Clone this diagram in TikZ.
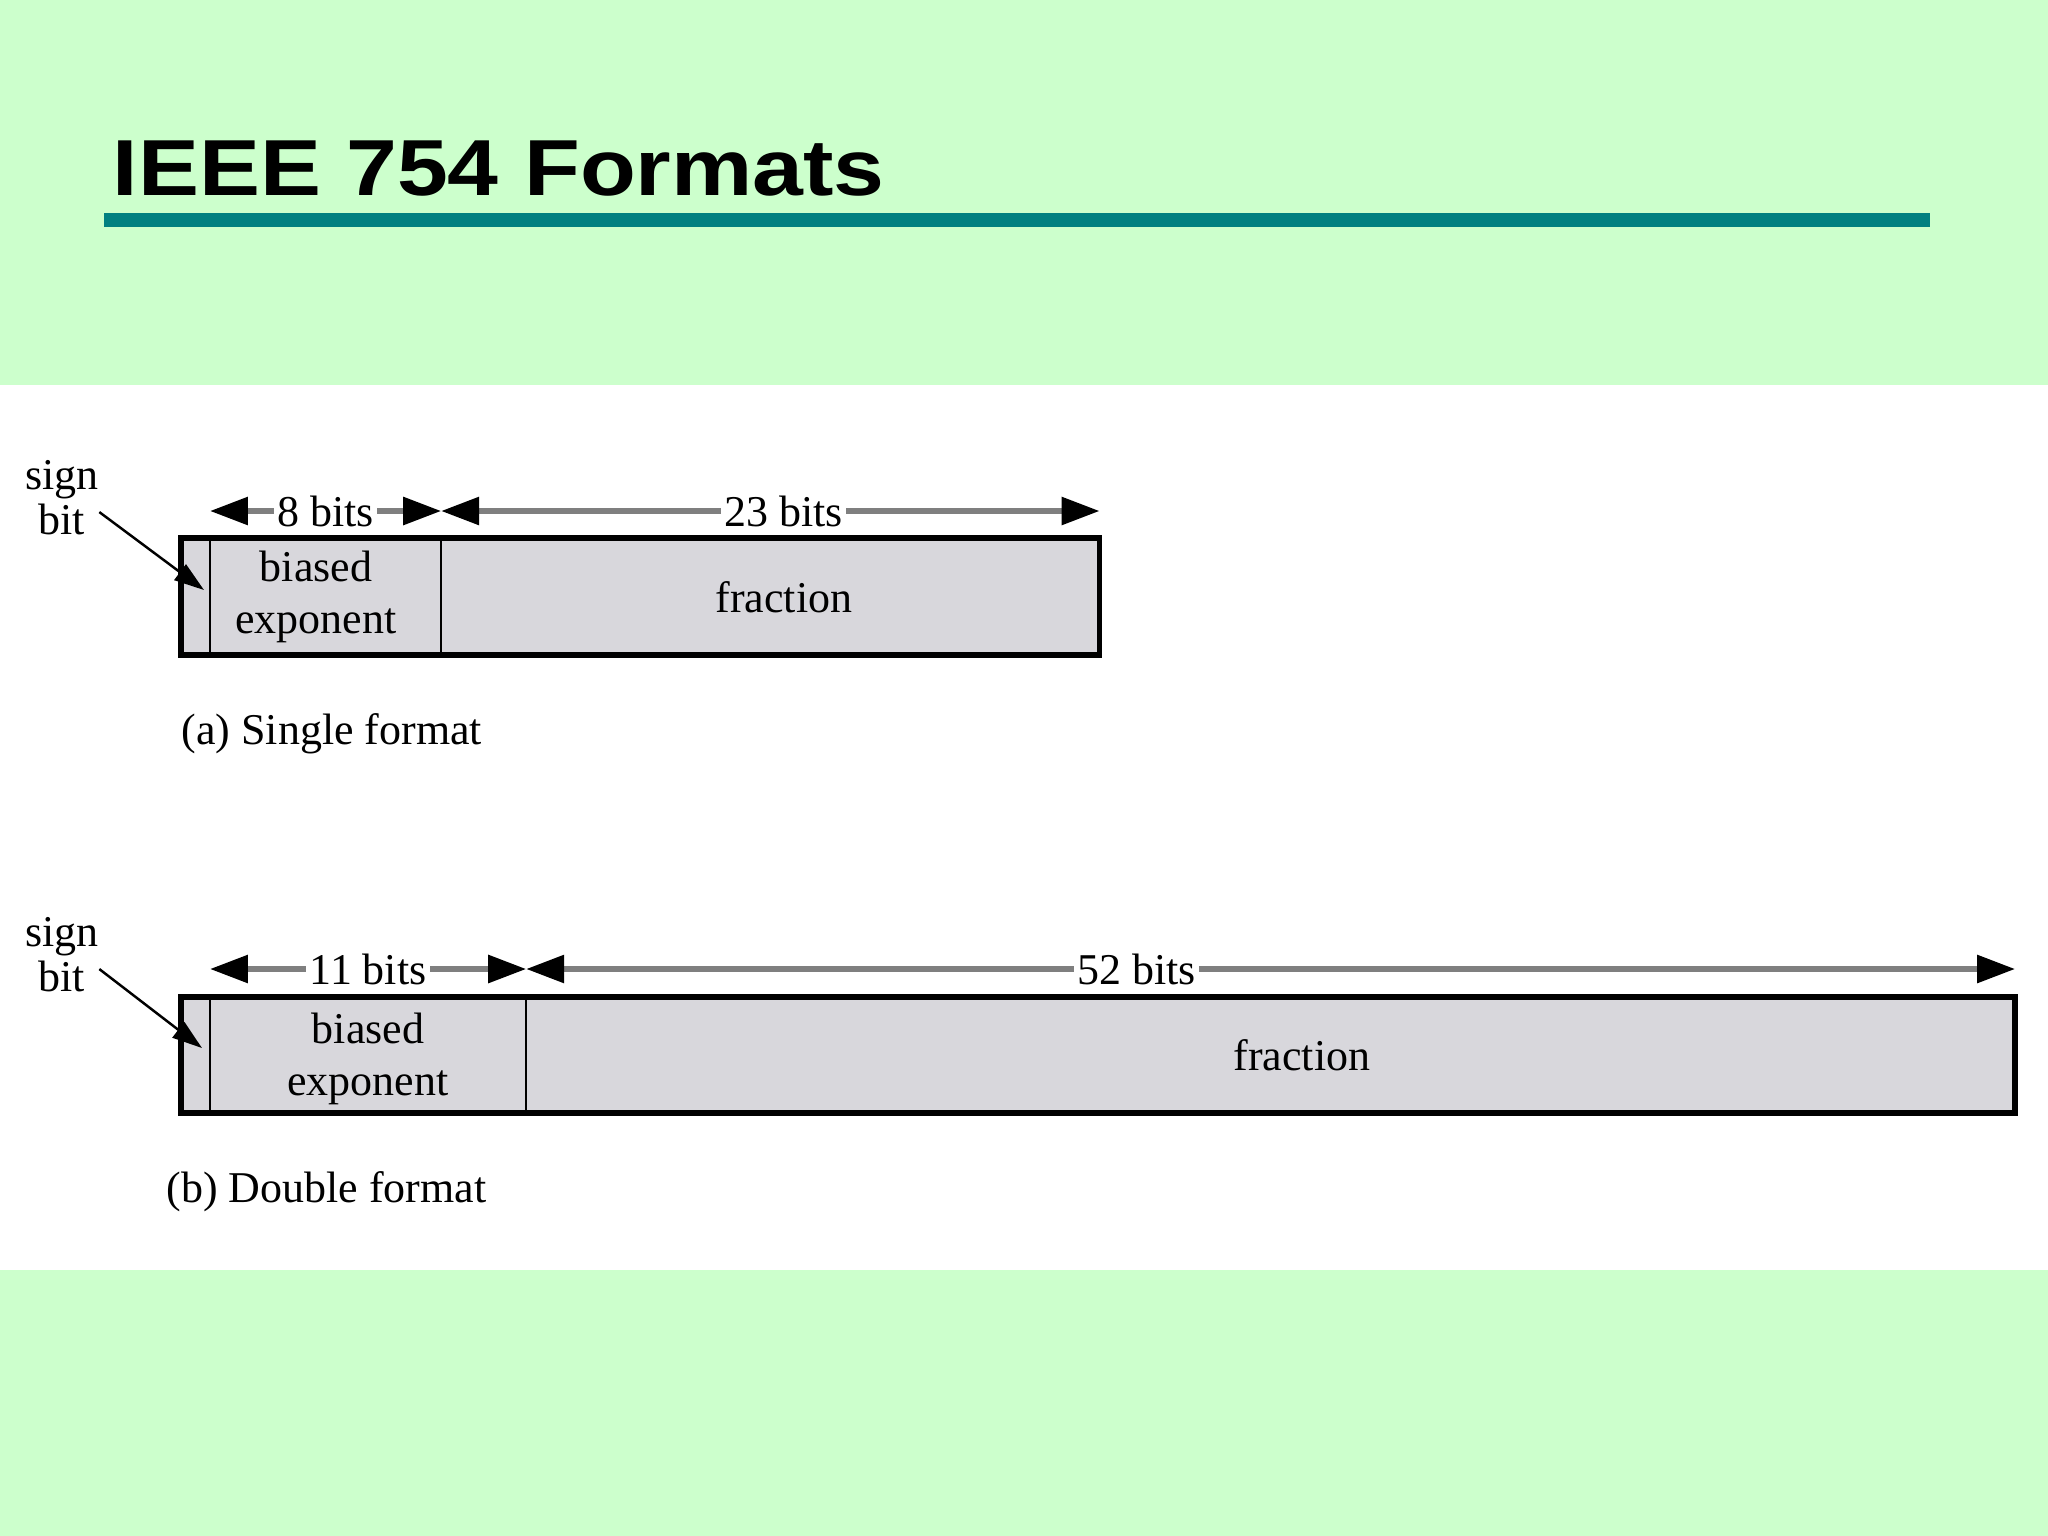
\documentclass[tikz,border=0pt]{standalone}
\usepackage{fontspec}
\setmainfont{Liberation Serif}
\newfontfamily\titlefont[FakeStretch=1.15]{Liberation Sans}
\usetikzlibrary{arrows.meta}
\definecolor{slidegreen}{HTML}{CCFFCC}
\definecolor{ruleteal}{HTML}{008080}
\definecolor{cellgray}{HTML}{D8D7DC}
\definecolor{dimgray}{HTML}{7F7F7F}

\begin{document}
\begin{tikzpicture}[x=0.01cm, y=-0.01cm,
    txt/.style={inner sep=0pt, align=center, font=\fontsize{12.5}{14.8}\selectfont},
    cell/.style={draw, line width=0.6pt, fill=cellgray, inner sep=0pt, outer sep=0pt,
      anchor=north west},
    frame/.style={line width=1.5pt},
    dim/.style={draw=dimgray, line width=1.6pt,
      {Triangle[length=10.8pt,width=7.7pt,color=black]}-{Triangle[length=10.8pt,width=7.7pt,color=black]}},
    bits/.style={fill=white, inner xsep=1pt, inner ysep=0pt, font=\fontsize{12.5}{14.8}\selectfont},
    ptr/.style={line width=0.7pt, -{Triangle[length=8.5pt,width=5.5pt]}},
    caption/.style={anchor=base west, inner sep=0pt, font=\fontsize{12.5}{14.8}\selectfont}]
  \useasboundingbox (0,0) rectangle (2048,1536);
  \fill[slidegreen] (0,0) rectangle (2048,1536);
  \fill[white] (0,385) rectangle (2048,1270);
  \node (title) [anchor=base west, inner sep=0pt,
    font=\titlefont\bfseries\fontsize{22.6}{24}\selectfont] at (112,195) {IEEE 754 Formats};
  \fill[ruleteal] (104,213) rectangle (1930,227);

  % single format
  \coordinate (srow) at (0,511);
  \node (s1) [cell, minimum width=0.29cm, minimum height=1.17cm] at (181,538) {};
  \node (s2) [cell, minimum width=2.31cm, minimum height=1.17cm] at (s1.north east) {};
  \node (s3) [cell, minimum width=6.58cm, minimum height=1.17cm] at (s2.north east) {};
  \draw[frame] (s1.north west) rectangle (s3.south east);
  \node (s2t) [txt] at (316,597) {biased\\exponent};
  \node (s3t) [txt] at (784,597) {fraction};
  \draw[dim] (s1.north east |- srow) -- node[bits] {8 bits} (s2.north east |- srow);
  \draw[dim] (s2.north east |- srow) -- node[bits, pos=0.52] {23 bits} (s3.north east |- srow);
  \node (ssign) [txt, font=\fontsize{12.5}{12.8}\selectfont] at (62,498) {sign\\bit};
  \coordinate (sptr) at (204,590);
  \draw[ptr] ([yshift=-4pt]ssign.east) -- (sptr);
  \node (scap) [caption] at (181,744) {(a) Single format};

  % double format
  \coordinate (drow) at (0,969);
  \node (d1) [cell, minimum width=0.29cm, minimum height=1.16cm] at (181,997) {};
  \node (d2) [cell, minimum width=3.16cm, minimum height=1.16cm] at (d1.north east) {};
  \node (d3) [cell, minimum width=14.88cm, minimum height=1.16cm] at (d2.north east) {};
  \draw[frame] (d1.north west) rectangle (d3.south east);
  \node (d2t) [txt] at (368,1059) {biased\\exponent};
  \node (d3t) [txt] at (1302,1055) {fraction};
  \draw[dim] (d1.north east |- drow) -- node[bits] {11 bits} (d2.north east |- drow);
  \draw[dim] (d2.north east |- drow) -- node[bits, pos=0.41] {52 bits} (d3.north east |- drow);
  \node (dsign) [txt, font=\fontsize{12.5}{12.8}\selectfont] at (62,955) {sign\\bit};
  \coordinate (dptr) at (202,1048);
  \draw[ptr] ([yshift=-4pt]dsign.east) -- (dptr);
  \node (dcap) [caption] at (166,1202) {(b) Double format};
\end{tikzpicture}
\end{document}
